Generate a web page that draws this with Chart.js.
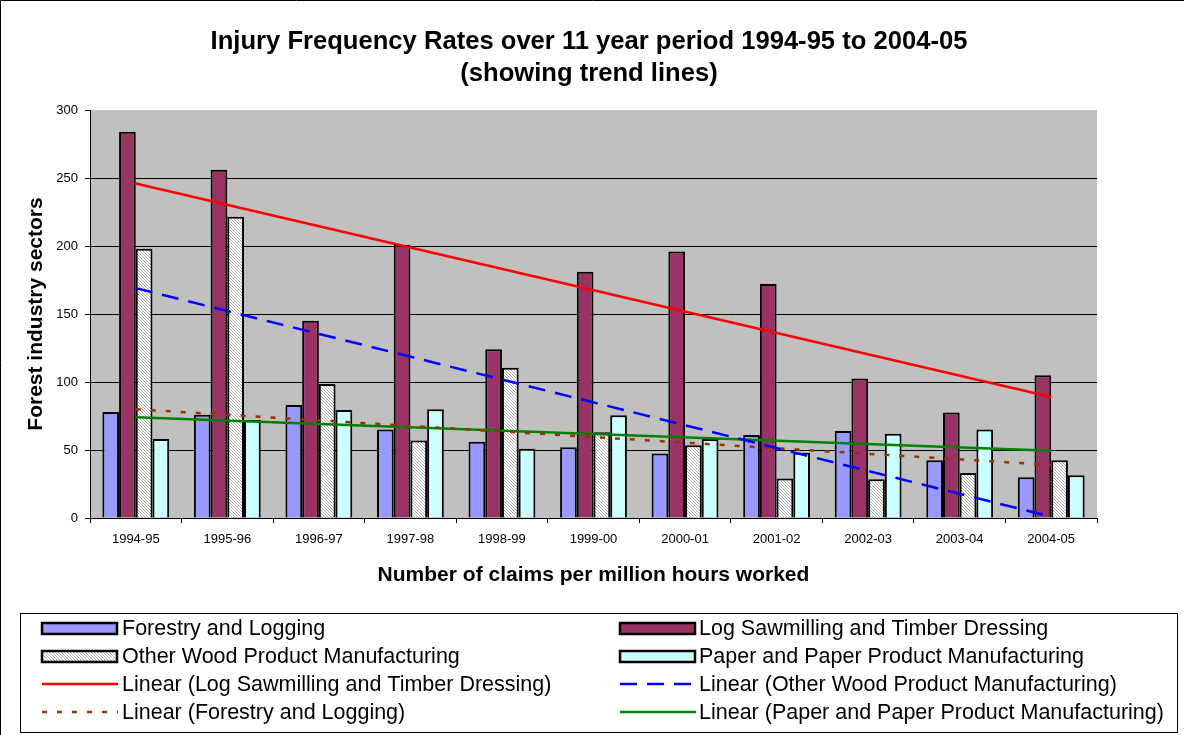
<!DOCTYPE html>
<html>
<head>
<meta charset="utf-8">
<script src="https://cdn.jsdelivr.net/npm/chart.js@4.4.1/dist/chart.umd.min.js"></script>
<style>
html,body{margin:0;padding:0;background:#fff;}
#wrap{width:1184px;height:735px;position:relative;}
</style>
</head>
<body>
<div id="wrap"><canvas id="c" width="1184" height="735"></canvas></div>
<script>
// ---- data ----
const categories = ['1994-95','1995-96','1996-97','1997-98','1998-99','1999-00','2000-01','2001-02','2002-03','2003-04','2004-05'];
const forestry  = [78, 76, 83, 65, 56, 52, 47.5, 61, 64, 42.5, 30];
const sawmill   = [284, 256, 145, 201, 124, 181, 196, 172, 102.5, 77.5, 105];
const otherWood = [198, 221.5, 98.5, 57, 110.5, 63, 53.5, 29, 28.5, 33, 42.5];
const paper     = [58, 72, 79.5, 80, 51, 75.5, 58, 48, 62, 65, 31.5];
// trend line end points at first and last category
const trendCats     = ['1994-95', '2004-05'];
const trendSawmill  = [246, 89];
const trendOther    = [169, 1];
const trendForestry = [80, 39];
const trendPaper    = [74, 49.5];
const yTickValues = [0, 50, 100, 150, 200, 250, 300];
const titleLines = ['Injury Frequency Rates over 11 year period 1994-95 to 2004-05', '(showing trend lines)'];

const FONT = '"Liberation Sans", Arial, sans-serif';

// hatch pattern for Other Wood
function makeHatch(){
  const p = document.createElement('canvas');
  p.width = 3; p.height = 3;
  const g = p.getContext('2d');
  g.fillStyle = '#ffffff'; g.fillRect(0,0,3,3);
  g.fillStyle = '#b0b0b0';
  for (let i=0;i<3;i++){ g.fillRect(i, i, 1, 1); }
  return g.createPattern(p, 'repeat');
}
const hatch = makeHatch();

function pts(vals){ return trendCats.map((c,i)=>({x:c, y:vals[i]})); }

const bgPlugin = {
  id:'bg',
  beforeDraw(chart){
    const {ctx, chartArea:a} = chart;
    ctx.save();
    ctx.fillStyle = '#ffffff';
    ctx.fillRect(0,0,chart.width,chart.height);
    ctx.fillStyle = '#c0c0c0';
    ctx.fillRect(a.left, a.top, a.right-a.left, a.bottom-a.top);
    ctx.strokeStyle = '#000'; ctx.lineWidth = 1;
    ctx.beginPath();
    ctx.moveTo(0.5, 735); ctx.lineTo(0.5, 0.5); ctx.lineTo(1184, 0.5);
    ctx.stroke();
    // title
    ctx.fillStyle = '#000';
    ctx.font = 'bold 25.6px ' + FONT;
    ctx.textAlign = 'center';
    ctx.textBaseline = 'middle';
    ctx.fillText(titleLines[0], 589, 42);
    ctx.fillText(titleLines[1], 589, 74);
    ctx.restore();
  }
};

const legendRows = [628, 656, 684, 712];
const legendPlugin = {
  id:'customLegend',
  afterDraw(chart){
    const ctx = chart.ctx;
    const ds = chart.data.datasets;
    ctx.save();
    ctx.strokeStyle = '#000'; ctx.lineWidth = 1;
    ctx.strokeRect(20.5, 613.5, 1157, 119);
    ctx.font = '21.5px ' + FONT;
    ctx.textBaseline = 'middle';
    ctx.textAlign = 'left';
    ds.forEach((d, k) => {
      const col = k % 2, row = Math.floor(k/2);
      const sx = col ? 620 : 42;
      const tx = col ? 699 : 122;
      const y = legendRows[row];
      if (d.type === 'line') {
        ctx.save();
        ctx.strokeStyle = d.borderColor;
        ctx.lineWidth = 2.5;
        ctx.setLineDash(d.borderDash || []);
        ctx.beginPath();
        ctx.moveTo(sx, y); ctx.lineTo(sx+76, y);
        ctx.stroke();
        ctx.restore();
      } else {
        ctx.fillStyle = d.backgroundColor;
        ctx.fillRect(sx, y-5, 75, 11);
        ctx.lineWidth = 2.5;
        ctx.strokeStyle = '#000';
        ctx.strokeRect(sx, y-5, 75, 11);
      }
      ctx.fillStyle = '#000';
      ctx.fillText(d.label, tx, y+1);
    });
    ctx.restore();
  }
};

const barCommon = {type:'bar', borderColor:'#000', borderWidth:2, barPercentage:1, categoryPercentage:0.73, order:1};
const lineCommon = {type:'line', pointRadius:0, fill:false, tension:0, borderWidth:2.5, borderCapStyle:'butt', order:0};

new Chart(document.getElementById('c'), {
  data: {
    labels: categories,
    datasets: [
      Object.assign({label:'Forestry and Logging', data:forestry, backgroundColor:'#9999ff'}, barCommon),
      Object.assign({label:'Log Sawmilling and Timber Dressing', data:sawmill, backgroundColor:'#993366'}, barCommon),
      Object.assign({label:'Other Wood Product Manufacturing', data:otherWood, backgroundColor:hatch}, barCommon),
      Object.assign({label:'Paper and Paper Product Manufacturing', data:paper, backgroundColor:'#ccffff'}, barCommon),
      Object.assign({label:'Linear (Log Sawmilling and Timber Dressing)', data:pts(trendSawmill), borderColor:'#ff0000'}, lineCommon),
      Object.assign({label:'Linear (Other Wood Product Manufacturing)', data:pts(trendOther), borderColor:'#0000ff', borderDash:[17,10], borderWidth:3}, lineCommon),
      Object.assign({label:'Linear (Forestry and Logging)', data:pts(trendForestry), borderColor:'#993300', borderDash:[5,10], borderWidth:3}, lineCommon),
      Object.assign({label:'Linear (Paper and Paper Product Manufacturing)', data:pts(trendPaper), borderColor:'#008000'}, lineCommon)
    ]
  },
  options: {
    responsive:false,
    animation:false,
    devicePixelRatio:1,
    layout:{padding:{left:0, right:87, top:110, bottom:142}},
    plugins:{
      legend:{display:false},
      tooltip:{enabled:false},
      title:{display:false}
    },
    scales:{
      x:{
        type:'category',
        offset:true,
        grid:{display:true, drawOnChartArea:false, offset:true, tickLength:5, color:'#000', tickColor:'#000'},
        border:{color:'#000', width:1},
        ticks:{color:'#000', font:{family:FONT, size:13}, padding:9, maxRotation:0, autoSkip:false},
        title:{display:true, text:'Number of claims per million hours worked', color:'#000',
               font:{family:FONT, size:21, weight:'bold', lineHeight:1.2}, padding:{top:4, bottom:5}},
        afterFit(s){ s.height = 75; }
      },
      y:{
        min:0, max:300,
        afterBuildTicks(s){ s.ticks = yTickValues.map(v=>({value:v})); },
        grid:{color:(c)=> (c.tick && c.tick.value===300) ? 'rgba(0,0,0,0)' : '#000', tickColor:'#000', tickLength:5, lineWidth:1},
        border:{color:'#000', width:1},
        ticks:{color:'#000', font:{family:FONT, size:13}, padding:7},
        title:{display:true, text:'Forest industry sectors', color:'#000',
               font:{family:FONT, size:21, weight:'bold', lineHeight:1.2}, padding:{top:24, bottom:0}},
        afterFit(s){ s.width = 90; }
      }
    }
  },
  plugins:[bgPlugin, legendPlugin]
});
</script>
</body>
</html>
